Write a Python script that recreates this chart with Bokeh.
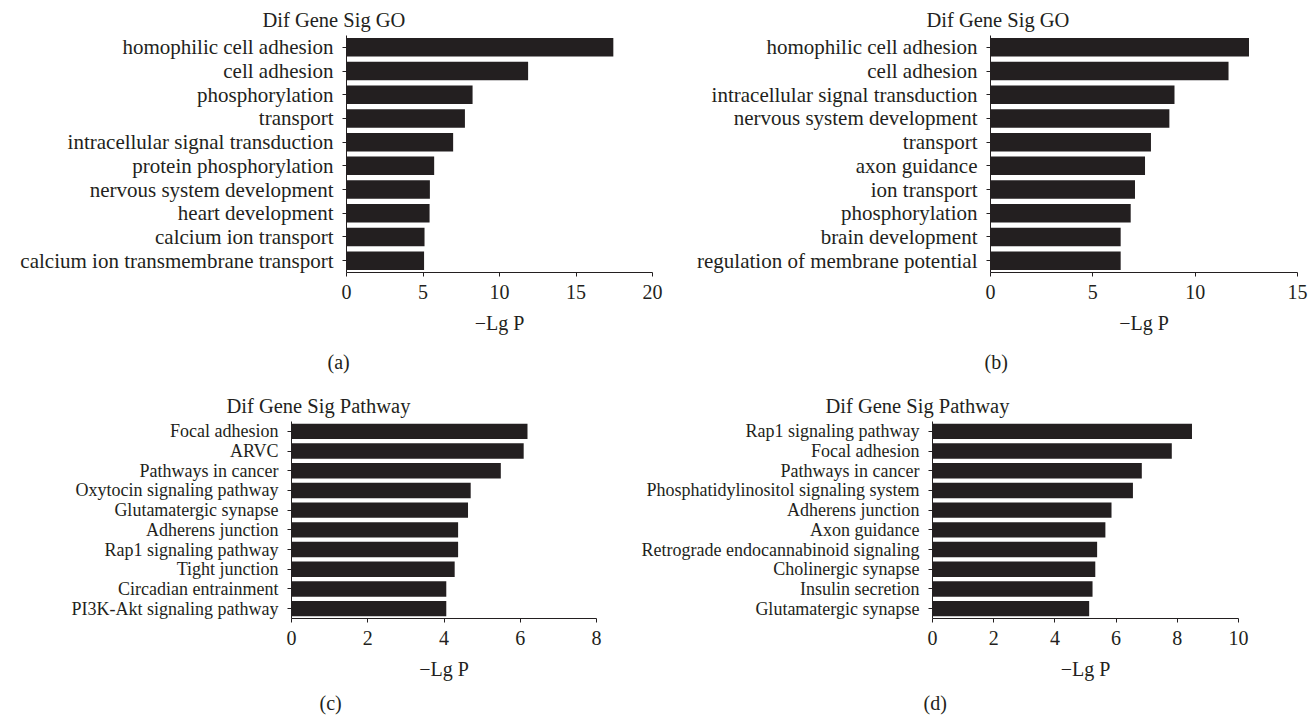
from bokeh.plotting import figure
from bokeh.layouts import column, row
from bokeh.models import Range1d, FactorRange, FixedTicker, Title, ColumnDataSource
from bokeh.embed import file_html
from bokeh.resources import INLINE

# ---------------- data ----------------
go_a_terms = ["homophilic cell adhesion", "cell adhesion", "phosphorylation", "transport",
              "intracellular signal transduction", "protein phosphorylation",
              "nervous system development", "heart development", "calcium ion transport",
              "calcium ion transmembrane transport"]
go_a_values = [17.44, 11.87, 8.24, 7.74, 6.97, 5.73, 5.45, 5.43, 5.10, 5.07]
ticks_a = [0, 5, 10, 15, 20]

go_b_terms = ["homophilic cell adhesion", "cell adhesion", "intracellular signal transduction",
              "nervous system development", "transport", "axon guidance", "ion transport",
              "phosphorylation", "brain development", "regulation of membrane potential"]
go_b_values = [12.63, 11.63, 8.99, 8.74, 7.84, 7.55, 7.06, 6.85, 6.36, 6.36]
ticks_b = [0, 5, 10, 15]

pw_c_terms = ["Focal adhesion", "ARVC", "Pathways in cancer", "Oxytocin signaling pathway",
              "Glutamatergic synapse", "Adherens junction", "Rap1 signaling pathway",
              "Tight junction", "Circadian entrainment", "PI3K-Akt signaling pathway"]
pw_c_values = [6.19, 6.09, 5.49, 4.70, 4.63, 4.37, 4.37, 4.28, 4.06, 4.06]
ticks_c = [0, 2, 4, 6, 8]

pw_d_terms = ["Rap1 signaling pathway", "Focal adhesion", "Pathways in cancer",
              "Phosphatidylinositol signaling system", "Adherens junction", "Axon guidance",
              "Retrograde endocannabinoid signaling", "Cholinergic synapse",
              "Insulin secretion", "Glutamatergic synapse"]
pw_d_values = [8.48, 7.82, 6.84, 6.55, 5.85, 5.65, 5.38, 5.32, 5.23, 5.12]
ticks_d = [0, 2, 4, 6, 8, 10]

titles = ["Dif Gene Sig GO", "Dif Gene Sig GO", "Dif Gene Sig Pathway", "Dif Gene Sig Pathway"]
subcaptions = ["(a)", "(b)", "(c)", "(d)"]
x_axis_title = "\u2212Lg P"

FONT = "Liberation Serif"
INK = "#231f20"


def make_panel(terms, values, ticks, title, subcap, width, height, bl, br, bt, bb,
               label_size, title_off, title_standoff, sub_off, sub_standoff):
    factors = list(reversed(terms))
    src = ColumnDataSource(dict(term=terms, val=values))
    p = figure(width=width, height=height, y_range=FactorRange(factors=factors, range_padding=0),
               x_range=Range1d(ticks[0], ticks[-1]), output_backend="svg", toolbar_location=None,
               min_border_left=bl, min_border_right=br, min_border_top=bt, min_border_bottom=bb)
    p.hbar(y="term", right="val", left=0, height=0.78, source=src, fill_color=INK, line_color=None)
    p.xgrid.visible = False
    p.ygrid.visible = False
    p.outline_line_color = None
    p.background_fill_color = "white"
    p.border_fill_color = "white"

    xa = p.xaxis[0]
    xa.ticker = FixedTicker(ticks=ticks)
    xa.minor_tick_line_color = None
    xa.major_tick_in = 0
    xa.major_tick_out = 4
    xa.major_label_standoff = 8
    xa.major_label_text_font = FONT
    xa.major_label_text_font_size = "20px"
    xa.major_label_text_color = INK
    xa.axis_line_color = INK
    xa.major_tick_line_color = INK
    xa.axis_label = x_axis_title
    xa.axis_label_text_font = FONT
    xa.axis_label_text_font_size = "20px"
    xa.axis_label_text_font_style = "normal"
    xa.axis_label_text_color = INK
    xa.axis_label_standoff = 10

    ya = p.yaxis[0]
    ya.major_tick_in = 0
    ya.major_tick_out = 4
    ya.major_label_standoff = 9
    ya.major_label_text_font = FONT
    ya.major_label_text_font_size = label_size
    ya.major_label_text_color = INK
    ya.axis_line_color = INK
    ya.major_tick_line_color = INK

    t = Title(text=title, align="left", offset=title_off, standoff=title_standoff,
              text_font=FONT, text_font_size="20.5px", text_font_style="normal", text_color=INK)
    p.add_layout(t, "above")
    s = Title(text=subcap, align="left", offset=sub_off, standoff=sub_standoff,
              vertical_align="top", text_font=FONT, text_font_size="20px",
              text_font_style="normal", text_color=INK)
    p.add_layout(s, "below")
    return p


pa = make_panel(go_a_terms, go_a_values, ticks_a, titles[0], subcaptions[0],
                664, 388, 346, 12, 35, 116, "21px", -84, 10, -19, 28)
pb = make_panel(go_b_terms, go_b_values, ticks_b, titles[1], subcaptions[1],
                652, 388, 326, 19, 35, 116, "21px", -64, 10, -6, 28)
pc = make_panel(pw_c_terms, pw_c_values, ticks_c, titles[2], subcaptions[2],
                604, 336, 291, 8, 33, 106, "18px", -65, 9, 28, 18)
pd = make_panel(pw_d_terms, pw_d_values, ticks_d, titles[3], subcaptions[3],
                712, 336, 328, 78, 33, 106, "18px", -107, 9, -9, 18)

layout = column(row(pa, pb), row(pc, pd))
open("out.html", "w").write(file_html(layout, INLINE))
